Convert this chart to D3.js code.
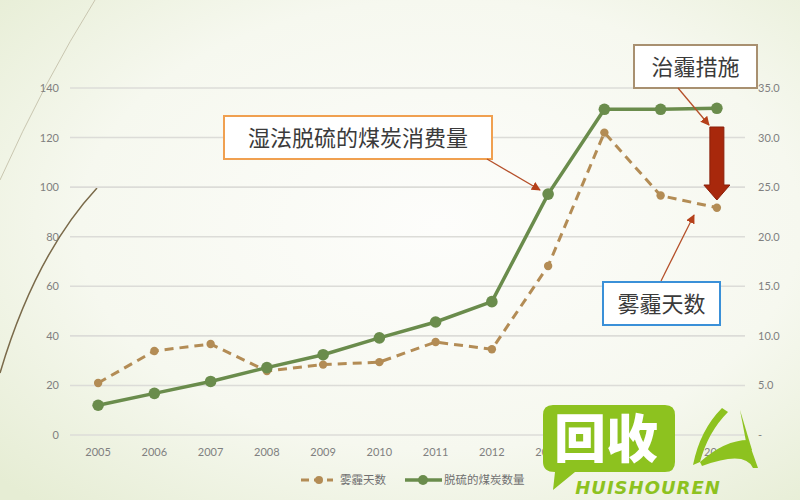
<!DOCTYPE html>
<html><head><meta charset="utf-8">
<script src="https://cdn.jsdelivr.net/npm/d3@7/dist/d3.min.js"></script>
<style>html,body{margin:0;padding:0;background:#f6f7ef;}svg{display:block;}</style>
</head><body><svg id="c" width="800" height="500"></svg>
<script>
const years = ["2005","2006","2007","2008","2009","2010","2011","2012","2013","2014","2015","2016"];
const hazeDays = [21, 33.9, 36.7, 25.8, 28.4, 29.4, 37.5, 34.6, 68.2, 122, 96.6, 91.7];
const coalUse = [3.0, 4.2, 5.4, 6.8, 8.1, 9.8, 11.4, 13.45, 24.3, 32.85, 32.85, 32.95];
const leftTicks = [0,20,40,60,80,100,120,140];
const rightTicks = [0,5,10,15,20,25,30,35];
const seriesNames = ["雾霾天数","脱硫的煤炭数量"];
const notes = ["湿法脱硫的煤炭消费量","治霾措施","雾霾天数"];

const svg = d3.select("#c");
const defs = svg.append("defs");
const rg = defs.append("radialGradient").attr("id","bg").attr("cx","0.55").attr("cy","0.45").attr("r","0.75");
rg.append("stop").attr("offset","0").attr("stop-color","#fdfdfb");
rg.append("stop").attr("offset","0.6").attr("stop-color","#f6f8ef");
rg.append("stop").attr("offset","1").attr("stop-color","#e6edd4");
svg.append("rect").attr("width",800).attr("height",500).attr("fill","url(#bg)");

// decorative curves
svg.append("path").attr("d","M0,180 Q45,80 95,0").attr("fill","none").attr("stroke","#c9c6b0").attr("stroke-width",1);
svg.append("path").attr("d","M0,373 Q35,255 97,188").attr("fill","none").attr("stroke","#7a6a4a").attr("stroke-width",1.5);

const x = d3.scalePoint().domain(years).range([70,745]).padding(0.5);
const yL = d3.scaleLinear().domain([0,140]).range([435,88]);
const yR = d3.scaleLinear().domain([0,35]).range([435,88]);

// gridlines
svg.append("g").selectAll("line").data(leftTicks).join("line")
  .attr("x1",70).attr("x2",745).attr("y1",d=>yL(d)).attr("y2",d=>yL(d))
  .attr("stroke","#dcdcd8").attr("stroke-width",1.6);

const lab = {fill:"#808080","font-family":"Lato, 'DejaVu Sans', sans-serif","font-size":"11px"};
function st(sel,o){for(const k in o) sel.attr(k,o[k]); return sel;}

st(svg.append("g").selectAll("text").data(leftTicks).join("text")
  .attr("x",59).attr("y",d=>yL(d)+4).attr("text-anchor","end").text(d=>d), lab);
st(svg.append("g").selectAll("text").data(rightTicks).join("text")
  .attr("x",758).attr("y",d=>yR(d)+4).attr("text-anchor","start").text(d=>d===0?"-":d.toFixed(1)), lab);
st(svg.append("g").selectAll("text").data(years).join("text")
  .attr("x",d=>x(d)).attr("y",456).attr("text-anchor","middle").text(d=>d), lab);

const hazeC = "#b38c55", coalC = "#6a8c4c";
// haze line
svg.append("path").datum(hazeDays)
  .attr("d", d3.line().x((d,i)=>x(years[i])).y(d=>yL(d)))
  .attr("fill","none").attr("stroke",hazeC).attr("stroke-width",3).attr("stroke-dasharray","9,6");
svg.append("g").selectAll("circle").data(hazeDays).join("circle")
  .attr("cx",(d,i)=>x(years[i])).attr("cy",d=>yL(d)).attr("r",4.2).attr("fill",hazeC);
// coal line
svg.append("path").datum(coalUse)
  .attr("d", d3.line().x((d,i)=>x(years[i])).y(d=>yR(d)))
  .attr("fill","none").attr("stroke",coalC).attr("stroke-width",3.5);
svg.append("g").selectAll("circle").data(coalUse).join("circle")
  .attr("cx",(d,i)=>x(years[i])).attr("cy",d=>yR(d)).attr("r",5.8).attr("fill",coalC);

// legend
const lg = svg.append("g");
lg.append("line").attr("x1",301).attr("x2",333).attr("y1",480).attr("y2",480).attr("stroke",hazeC).attr("stroke-width",3).attr("stroke-dasharray","8,5");
lg.append("circle").attr("cx",319).attr("cy",480).attr("r",4).attr("fill",hazeC);
st(lg.append("text").attr("x",340).attr("y",484).text(seriesNames[0]),{fill:"#707070","font-family":"'Noto Sans CJK SC', sans-serif","font-size":"11.5px"});
lg.append("line").attr("x1",405).attr("x2",442).attr("y1",480).attr("y2",480).attr("stroke",coalC).attr("stroke-width",3.5);
lg.append("circle").attr("cx",423).attr("cy",480).attr("r",5).attr("fill",coalC);
st(lg.append("text").attr("x",444).attr("y",484).text(seriesNames[1]),{fill:"#707070","font-family":"'Noto Sans CJK SC', sans-serif","font-size":"11.5px"});

// arrow markers
defs.append("marker").attr("id","ah").attr("viewBox","0 0 10 10").attr("refX",9).attr("refY",5)
  .attr("markerWidth",7).attr("markerHeight",7).attr("orient","auto")
  .append("path").attr("d","M0,0 L10,5 L0,10 Z").attr("fill","#b5401a");

function note(x0,y0,w,h,txt,border){
  svg.append("rect").attr("x",x0).attr("y",y0).attr("width",w).attr("height",h)
    .attr("fill","#ffffff").attr("stroke",border).attr("stroke-width",2);
  svg.append("text").attr("x",x0+w/2).attr("y",y0+h/2+8).attr("text-anchor","middle")
    .attr("fill","#3a3a3a").attr("font-family","'Noto Sans CJK SC', sans-serif").attr("font-size","22px").text(txt);
}
function arrow(x1,y1,x2,y2){
  svg.append("line").attr("x1",x1).attr("y1",y1).attr("x2",x2).attr("y2",y2)
    .attr("stroke","#b5502a").attr("stroke-width",1.3).attr("marker-end","url(#ah)");
}
note(224,116,268,43,notes[0],"#f0a050");
arrow(487,159,540,190);
note(634,45,123,43,notes[1],"#a89070");
arrow(678,88,709,125);
note(603,282,117,43,notes[2],"#3a90d8");
arrow(661,281,694,215);

// big red arrow
const ax = x("2016");
svg.append("path").attr("d",`M${ax-7},127 L${ax+7},127 L${ax+7},185 L${ax+13},185 L${ax},200 L${ax-13},185 L${ax-7},185 Z`)
  .attr("fill","#a8280c").attr("stroke","#8a1e08").attr("stroke-width",1);

// watermark
const wm = svg.append("g");
wm.append("path").attr("d","M553,405 L665,405 Q675,405 675,415 L675,462 Q675,472 665,472 L575,472 L553,490 L555,472 Q543,472 543,462 L543,415 Q543,405 553,405 Z").attr("fill","#8dc21f");
wm.append("text").attr("x",606).attr("y",458).attr("text-anchor","middle").attr("fill","#ffffff")
  .attr("font-family","'Noto Sans CJK SC', sans-serif").attr("font-weight","900").attr("font-size","52px").text("回收");
wm.append("text").attr("x",648).attr("y",494).attr("text-anchor","middle").attr("fill","#8dc21f")
  .attr("font-family","'DejaVu Sans', sans-serif").attr("font-weight","bold").attr("font-style","italic").attr("font-size","18px").attr("letter-spacing","1").text("HUISHOUREN");
wm.append("path").attr("d","M693,465 Q700,430 722,408 L728,412 Q708,432 700,462 Z").attr("fill","#8dc21f");
wm.append("path").attr("d","M700,462 Q725,440 748,440 L758,468 L753,468 Q745,450 702,466 Z").attr("fill","#8dc21f");
wm.append("path").attr("d","M740,410 L752,450 L748,452 Z").attr("fill","#8dc21f");
</script></body></html>
